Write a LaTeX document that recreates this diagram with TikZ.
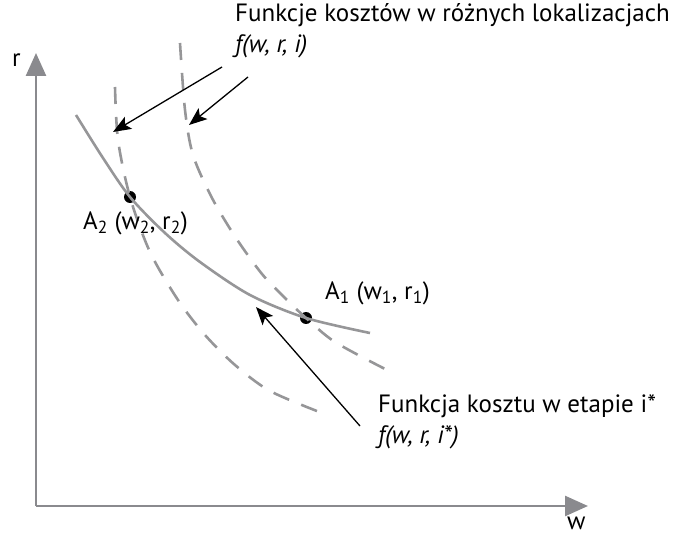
\documentclass[tikz,border=0pt]{standalone}
\usepackage{fontspec}
\setmainfont{PT Sans}
\usetikzlibrary{arrows.meta}
\definecolor{axgray}{RGB}{138,138,142}
\definecolor{crvgray}{RGB}{150,150,152}

\begin{document}
\begin{tikzpicture}[x=1pt,y=-1pt,
  font=\fontsize{25}{30}\selectfont,
  axis/.style={draw=axgray,line width=2.6pt,-{Triangle[length=23pt,width=20pt]}},
  cost/.style={crvgray,line width=2.6pt},
  alt/.style={cost,dash pattern=on 17pt off 13pt},
  lbl/.style={anchor=base west,inner sep=0pt},
  pt/.style={circle,fill=black,inner sep=0pt,minimum size=12pt},
  ptr/.style={black,line width=1.3pt,-{Stealth[length=18pt,width=14pt,inset=4pt]}}
]
\useasboundingbox (0,0) rectangle (675,537);

% axes
\coordinate (o)  at (36,506);
\coordinate (rt) at (36,53);
\coordinate (wt) at (588,506);
\draw[axis] (o) -- (rt);
\draw[axis] (o) -- (wt);
\node[lbl] (rlab) at (12,67)  {r};
\node[lbl] (wlab) at (567,529) {w};

% points
\node[pt] (A2) at (130,197) {};
\node[pt] (A1) at (306,318) {};

% cost functions in other locations
\draw[alt] plot[smooth] coordinates {(115,87) (118,140) (130,197) (150,252)
  (178,300) (205,335) (235,365) (270,391) (322,413)};
\draw[alt] plot[smooth] coordinates {(180,43) (185,110) (193,155) (212,198)
  (236,238) (262,274) (285,298) (306,318) (335,342) (387,370)};
% cost function in stage i*
\draw[cost] plot[smooth] coordinates {(76,115) (103,158) (130,197) (165,233)
  (200,262) (250,295) (306,318) (370,333)};

% labels
\node[lbl] (A2lab) at (83,230)  {A\textsubscript{2} (w\textsubscript{2}, r\textsubscript{2})};
\node[lbl] (A1lab) at (325,300) {A\textsubscript{1} (w\textsubscript{1}, r\textsubscript{1})};

\node[lbl] (lokA) at (235,22) {Funkcje kosztów w różnych lokalizacjach};
\node[lbl] (lokB) at (235,53) {\textit{f(w, r, i)}};
\node[lbl] (etA)  at (378,412) {Funkcja kosztu w etapie i*};
\node[lbl] (etB)  at (378,443) {\textit{f(w, r, i*)}};

% pointers
\coordinate (p1s) at (222,67);  \coordinate (p1e) at (113,132);
\coordinate (p2s) at (248,77);  \coordinate (p2e) at (189,125);
\coordinate (p3s) at (360,426); \coordinate (p3e) at (256,307);
\draw[ptr] (p1s) -- (p1e);
\draw[ptr] (p2s) -- (p2e);
\draw[ptr] (p3s) -- (p3e);
\end{tikzpicture}
\end{document}
